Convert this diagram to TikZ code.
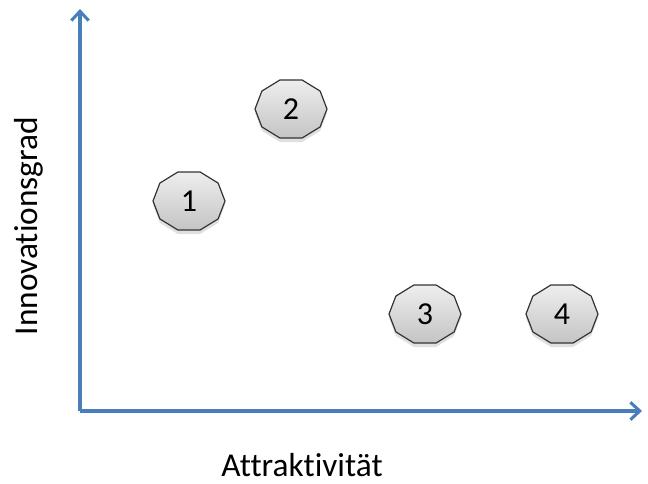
\documentclass[tikz,border=0pt]{standalone}
\usepackage{fontspec}
\setmainfont{Carlito}[Ligatures=CommonOff]
\usetikzlibrary{arrows.meta}
\definecolor{axisblue}{HTML}{4A7EBB}
\definecolor{polytop}{HTML}{EEEEEE}
\definecolor{polybot}{HTML}{C4C4C4}
\tikzset{
  axisline/.style={draw=axisblue, line width=2.3pt, -{Straight Barb[length=7pt,width=13pt,line width=2.3pt]}},
  polyshape/.style={draw=black!80, line width=0.9pt, top color=polytop, bottom color=polybot},
  polyshadow/.style={fill=black, opacity=0.12},
  numlab/.style={inner sep=0pt, font=\fontsize{24}{26}\selectfont},
  axislab/.style={inner sep=0pt, font=\fontsize{25}{28}\selectfont}
}
\newcommand\decag[4]{%
  \fill[polyshadow] ({#2+36},{#3+4}) \foreach \a in {36,72,...,324} {-- ({#2+36*cos(\a)},{#3+4+30.5*sin(\a)})} -- cycle;
  \draw[polyshape] ({#2+36},{#3}) \foreach \a in {36,72,...,324} {-- ({#2+36*cos(\a)},{#3+30.5*sin(\a)})} -- cycle;
  \node[numlab] (#1) at (#2,#3) {#4};
}
\begin{document}
\begin{tikzpicture}[x=0.75pt,y=-0.75pt]
\useasboundingbox (0,0) rectangle (648,483);
\coordinate (origin) at (80,411);
\coordinate (ytip) at (80,9);
\coordinate (xtip) at (642,411);
\draw[axisline] (origin) -- (ytip);
\draw[axisline] (origin) -- (xtip);
\decag{n1}{189}{201}{1}
\decag{n2}{291}{109}{2}
\decag{n3}{425}{314}{3}
\decag{n4}{562}{314}{4}
\node[axislab, rotate=90] (ylab) at (29,226) {Innovationsgrad};
\node[axislab] (xlab) at (302,465) {Attraktivität};
\end{tikzpicture}
\end{document}
